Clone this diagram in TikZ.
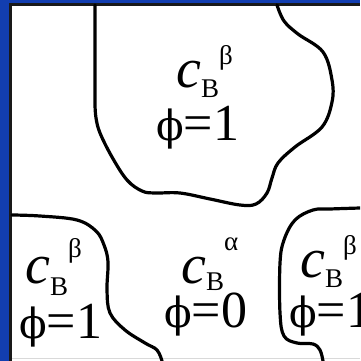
\documentclass[tikz,border=0pt]{standalone}
\usepackage{graphicx}
\usepackage{fontspec}
\setmainfont{Liberation Serif}
\newfontfamily\phifont{DejaVu Serif}
\newcommand{\myphi}{{\phifont\scalebox{0.78}[0.8]{ϕ}}}
\newcommand{\cbsym}[3]{{\fontsize{56}{56}\selectfont\itshape c}{\fontsize{27}{27}\selectfont\raisebox{-#1pt}{B}\raisebox{#2pt}{#3}}}
\begin{document}
\begin{tikzpicture}[x=1pt,y=-1pt,
  grain/.style={line width=3.2pt,line cap=round,line join=round},
  lab/.style={inner sep=0pt,anchor=base west},
  ph/.style={inner sep=0pt,anchor=base west,font=\fontsize{52}{52}\selectfont}]
\definecolor{frameblue}{RGB}{18,62,176}
\useasboundingbox (0,0) rectangle (360,361);
\fill[white] (0,0) rectangle (360,361);
\begin{scope}
\clip (0,0) rectangle (360,361);
\fill[frameblue] (0,0) rectangle (9,361);
\fill[frameblue] (0,0) rectangle (360,3.5);
\draw[line width=3pt,black!90] (10.5,3.5) -- (10.5,361);
\draw[line width=3pt,black!90] (9,5) -- (360,5);
\draw[line width=1pt,black!15] (12,358.5) -- (360,358.5);
% top grain
\draw[grain] (95,5) -- (95,105) plot[smooth,tension=0.6] coordinates {(95,105) (96,118) (100,133) (112,157) (127,180) (142,191) (155,193) (180,193) (210,199) (240,205) (256,204) (267,193) (272,178) (278,163) (295,147) (322,127) (332,102) (332,80) (323,52) (298,34) (284,21) (277,5)};
% bottom-left grain
\draw[grain] plot[smooth,tension=0.6] coordinates {(12,215) (40,216) (77,220) (96,231) (104,245) (108,262) (107,290) (110,313) (125,330) (145,343) (157,350) (162,361)};
% bottom-right grain
\draw[grain] plot[smooth,tension=0.6] coordinates {(360,208) (330,209) (313,210) (295,220) (284,240) (280,263) (280,313) (284,336) (297,343) (313,344) (320,350) (323,361)};
% labels
\node[lab] (c1) at (176,87) {\cbsym{10}{23}{β}};
\node[ph] (p1) at (156,140) {\myphi=1};
\node[lab] (c2) at (25,283) {\cbsym{12}{26}{β}};
\node[ph] (p2) at (19,338) {\myphi=1};
\node[lab] (c3) at (181,283) {\cbsym{7}{33}{α}};
\node[ph] (p3) at (164,327) {\myphi=0};
\node[lab] (c4) at (300,277) {\cbsym{10}{23}{β}};
\node[ph] (p4) at (289,327) {\myphi=1};
\end{scope}
\end{tikzpicture}
\end{document}
